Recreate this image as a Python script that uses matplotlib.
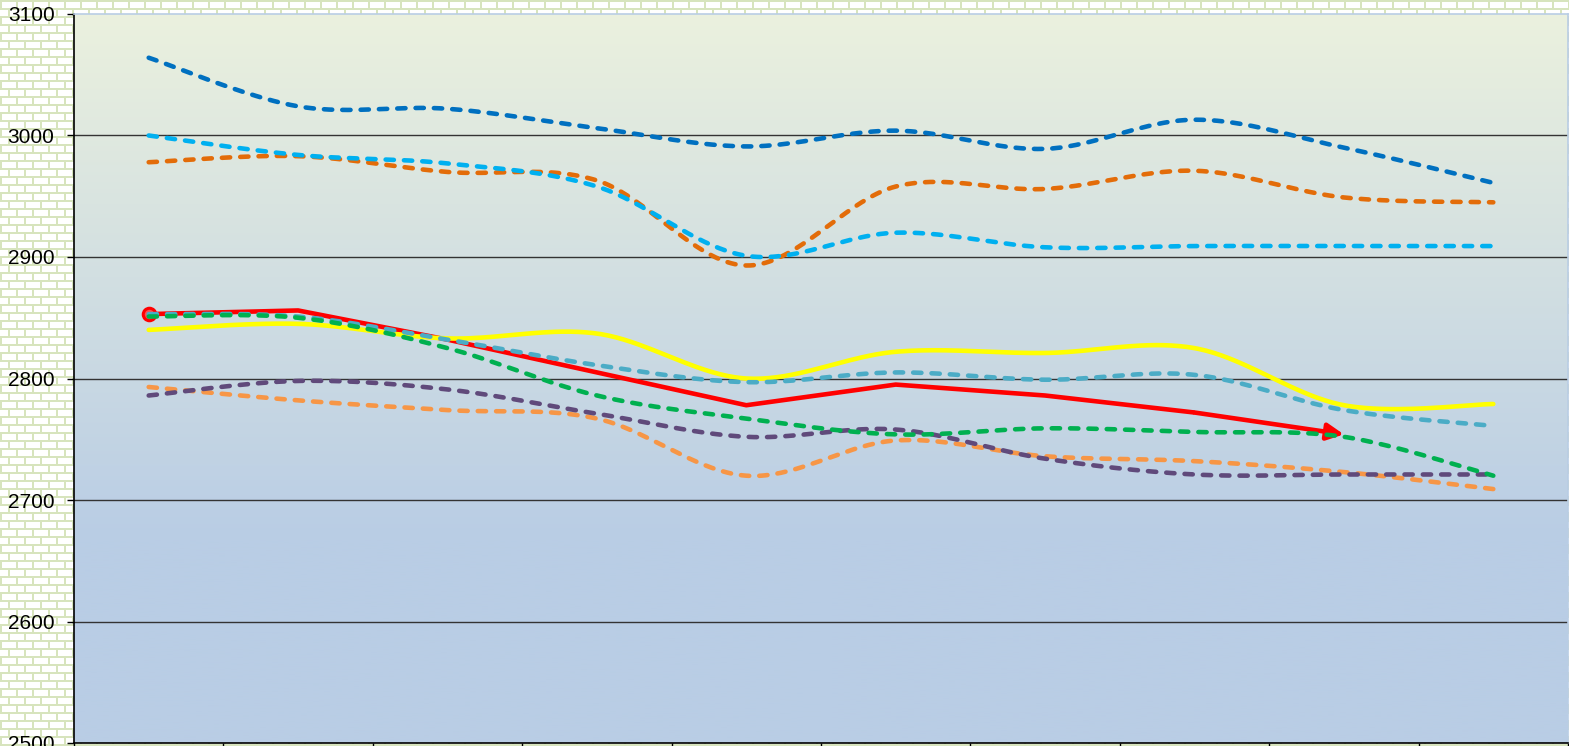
import numpy as np
import matplotlib
matplotlib.use("Agg")
import matplotlib.pyplot as plt
from matplotlib.patches import FancyArrowPatch

plt.rcParams['font.family'] = ['Liberation Sans', 'DejaVu Sans']

# ---- data ----
categories = list(range(1, 11))
s_darkblue = [3064, 3024, 3022, 3006, 2991, 3004, 2989, 3013, 2990, 2961]
s_darkorange = [2978, 2983, 2970, 2963, 2893, 2958, 2956, 2971, 2949, 2945]
s_lightblue = [3000, 2984, 2977, 2958, 2901, 2920, 2908, 2909, 2909, 2909]
s_red = [2853, 2856, 2832, 2805, 2778, 2795, 2786, 2772, 2754]
s_yellow = [2840, 2845, 2833, 2837, 2800, 2822, 2821, 2825, 2778, 2779]
s_teal = [2853, 2851, 2832, 2811, 2797, 2805, 2799, 2803, 2774, 2761]
s_green = [2851, 2850, 2825, 2786, 2767, 2754, 2759, 2756, 2752, 2720]
s_purple = [2786, 2798, 2791, 2771, 2752, 2758, 2734, 2721, 2721, 2721]
s_lightorange = [2793, 2782, 2774, 2767, 2720, 2749, 2736, 2732, 2723, 2709]
yticks = [2500, 2600, 2700, 2800, 2900, 3000, 3100]


def smooth(xs, ys, n=40):
    xs = np.asarray(xs, float); ys = np.asarray(ys, float)
    P = np.column_stack([xs, ys])
    out = []
    for i in range(len(P) - 1):
        p0 = P[i - 1] if i > 0 else P[i]
        p1 = P[i]; p2 = P[i + 1]
        p3 = P[i + 2] if i + 2 < len(P) else P[i + 1]
        c1 = p1 + (p2 - p0) / 6.0
        c2 = p2 - (p3 - p1) / 6.0
        t = np.linspace(0, 1, n)[:, None]
        seg = ((1 - t) ** 3) * p1 + 3 * ((1 - t) ** 2) * t * c1 + 3 * (1 - t) * t ** 2 * c2 + t ** 3 * p2
        out.append(seg if i == 0 else seg[1:])
    seg = np.vstack(out)
    return seg[:, 0], seg[:, 1]


W, H = 1569, 746
fig = plt.figure(figsize=(W / 100, H / 100), dpi=100)

# brick background
img = np.ones((H, W, 3))
mortar = np.array([0xd7, 0xe4, 0xbd]) / 255.0
cols = np.arange(W)
for r in range(H):
    if r % 8 in (0, 1):
        img[r, :, :] = mortar
    else:
        off = 0 if (r // 8) % 2 == 0 else 8
        mask = ((cols + off) % 16) < 2
        img[r, mask, :] = mortar
bg = fig.add_axes([0, 0, 1, 1], zorder=-10)
bg.imshow(img, aspect='auto', extent=[0, 1, 0, 1], interpolation='nearest')
bg.axis('off')

left, right, top, bottom = 74, 1568, 14, 743
ax = fig.add_axes([left / W, (H - bottom) / H, (right - left) / W, (bottom - top) / H])

# gradient plot area
top_c = np.array([0xeb, 0xf1, 0xde]) / 255.0
bot_c = np.array([0xb9, 0xcd, 0xe5]) / 255.0
g = np.linspace(0, 1, 300)
g = np.clip(g / 0.72, 0, 1)
grad = top_c[None, :] * (1 - g[:, None]) + bot_c[None, :] * g[:, None]
grad = grad[:, None, :]
ax.imshow(grad, aspect='auto', extent=[0.5, 10.5, 2500, 3100], origin='upper', zorder=0)
ax.set_xlim(0.5, 10.5)
ax.set_ylim(2500, 3100)

for v in yticks[1:-1]:
    ax.axhline(v, color='#333333', lw=1.0, zorder=1)

lw = 3.3
dash_kw = dict(lw=lw, dashes=(1.8, 2.2), dash_capstyle='round', solid_capstyle='round')

series = [
    (s_darkorange, '#e36c09'),
    (s_lightblue, '#00b0f0'),
    (s_darkblue, '#0070c0'),
    (s_lightorange, '#f79646'),
    (s_purple, '#604a7b'),
]
for ys, c in series:
    x, y = smooth(categories[:len(ys)], ys)
    ax.plot(x, y, color=c, zorder=3, **dash_kw)

# red line (straight) with start circle and arrow
xr = categories[:len(s_red)]
ax.plot(xr[:-1], s_red[:-1], color='#ff0000', lw=lw, zorder=2, solid_capstyle='butt')
ax.plot(xr[0], s_red[0], marker='o', ms=9, mfc='#ff5050', mec='#ff0000', mew=2.2, zorder=2)
arr = FancyArrowPatch((xr[-2], s_red[-2]), (xr[-1], s_red[-1]), arrowstyle='-|>,head_length=10,head_width=5',
                      mutation_scale=1, color='#ff0000', lw=lw, zorder=2, shrinkA=0, shrinkB=0)
ax.add_patch(arr)

x, y = smooth(categories, s_yellow)
ax.plot(x, y, color='#ffff00', lw=lw, zorder=3, solid_capstyle='round')
x, y = smooth(categories, s_teal)
ax.plot(x, y, color='#4bacc6', zorder=3, **dash_kw)
x, y = smooth(categories, s_green)
ax.plot(x, y, color='#00b050', zorder=3, **dash_kw)

ax.set_yticks(yticks)
ax.set_yticklabels([str(v) for v in yticks], fontsize=15)
ax.set_xticks(np.arange(0.5, 11, 1))
ax.set_xticklabels([])
ax.tick_params(axis='y', direction='out', length=5, width=1, pad=9, colors='black')
ax.tick_params(axis='x', direction='out', length=5, width=1)
ax.spines['left'].set_color('black')
ax.spines['bottom'].set_color('black')
ax.spines['top'].set_color('#b9cde5')
ax.spines['right'].set_color('#b9cde5')
for s in ax.spines.values():
    s.set_linewidth(1.2)
    s.set_zorder(5)

fig.savefig('out.png', dpi=100)
